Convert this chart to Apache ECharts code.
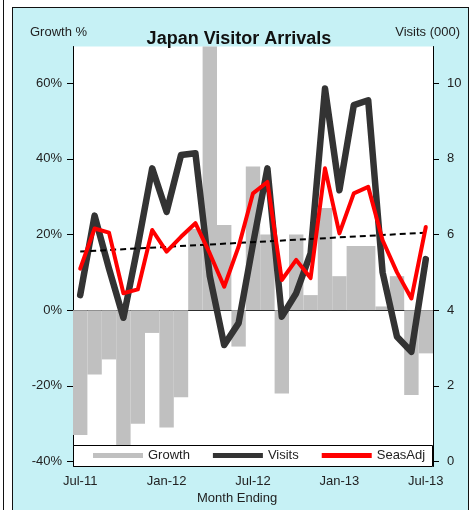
<!DOCTYPE html>
<html>
<head>
<meta charset="utf-8">
<script src="https://cdn.jsdelivr.net/npm/echarts@6/dist/echarts.min.js"></script>
<style>
  html, body { margin: 0; padding: 0; background: #fff; }
  #wrap { position: relative; width: 474px; height: 510px; overflow: hidden; }
  #edge { position: absolute; left: 3px; top: 0; width: 1px; height: 510px; background: #111; }
  #panel { position: absolute; left: 12px; top: 7px; width: 455px; height: 520px;
           background: #c6f1f5; border: 1.5px solid #111; }
  #chart { position: absolute; left: 0; top: 0; width: 474px; height: 510px; }
</style>
</head>
<body>
<div id="wrap">
  <div id="edge"></div>
  <div id="panel"></div>
  <div id="chart"></div>
</div>
<script>
// Monthly categories, Jul-11 .. Jul-13
const months = ['Jul-11','Aug-11','Sep-11','Oct-11','Nov-11','Dec-11',
                'Jan-12','Feb-12','Mar-12','Apr-12','May-12','Jun-12',
                'Jul-12','Aug-12','Sep-12','Oct-12','Nov-12','Dec-12',
                'Jan-13','Feb-13','Mar-13','Apr-13','May-13','Jun-13','Jul-13'];

// Year-on-year growth, percent (left axis)
const growthPct = [-33, -17, -13, -38, -30, -6,
                   -31, -23, 21.5, 78, 22.5, -9.6,
                   38, 20, -22, 20, 4, 27,
                   9, 17, 17, 1, 9, -22.4, -11.4];

// Visitor arrivals, thousands (right axis)
const visits = [4.4, 6.5, 5.1, 3.8, 5.7, 7.75,
                6.6, 8.1, 8.15, 4.9, 3.08, 3.66,
                5.75, 7.75, 3.83, 4.45, 5.5, 9.86,
                7.17, 9.42, 9.55, 5.0, 3.3, 2.9, 5.35];

// Seasonally adjusted arrivals, thousands (right axis)
const seasAdj = [5.1, 6.16, 6.05, 4.45, 4.55, 6.12,
                 5.55, 5.94, 6.3, 5.5, 4.62, 5.68,
                 7.09, 7.39, 4.8, 5.33, 4.85, 7.75,
                 6.03, 7.09, 7.26, 5.85, 5.0, 4.31, 6.2];

// Linear trend of the seasonally adjusted series: end points
const trendStart = 5.55;
const trendEnd = 6.05;

// Axis tick labels
const growthTicks = [-40, -20, 0, 20, 40, 60];
const visitTicks = [0, 2, 4, 6, 8, 10];
const labelMonths = ['Jul-11', 'Jan-12', 'Jul-12', 'Jan-13', 'Jul-13'];

const trend = months.map((m, i) =>
  i === 0 ? trendStart : (i === months.length - 1 ? trendEnd : null));

const FONT = 'Liberation Sans, Arial, sans-serif';
const chart = echarts.init(document.getElementById('chart'), null, { renderer: 'canvas' });

chart.setOption({
  backgroundColor: 'transparent',
  animation: false,
  title: {
    text: 'Japan Visitor Arrivals',
    left: 234, top: 25, textAlign: 'center',
    textStyle: { fontFamily: FONT, fontSize: 18, fontWeight: 'bold', color: '#111' }
  },
  grid: {
    left: 73, right: 41, top: 46.5, bottom: 43.5,
    show: true, backgroundColor: '#fff', borderWidth: 0
  },
  legend: {
    z: 6,
    left: 93, top: 449, padding: 0,
    itemWidth: 50, itemHeight: 5, itemGap: 23,
    textStyle: { fontFamily: FONT, fontSize: 13, color: '#222', padding: [0, 0, 0, 0] },
    data: [
      { name: 'Growth', icon: 'rect' },
      { name: 'Visits', icon: 'rect' },
      { name: 'SeasAdj', icon: 'rect' }
    ]
  },
  xAxis: {
    type: 'category',
    data: months,
    boundaryGap: true,
    axisLine: { lineStyle: { color: '#000', width: 1 } },
    axisTick: { show: false },
    axisLabel: {
      interval: (idx, val) => labelMonths.includes(val),
      margin: 8,
      fontFamily: FONT, fontSize: 13, color: '#222'
    },
    splitLine: { show: false }
  },
  yAxis: [
    {
      type: 'value', position: 'left',
      min: -41.3, max: 69.7,
      axisLine: { show: true, lineStyle: { color: '#000', width: 1 } },
      axisTick: { show: true, customValues: growthTicks, length: 6, lineStyle: { color: '#000' } },
      axisLabel: {
        customValues: growthTicks,
        formatter: v => v + '%',
        margin: 11, fontFamily: FONT, fontSize: 13, color: '#222'
      },
      splitLine: { show: false }
    },
    {
      type: 'value', position: 'right',
      min: -0.13, max: 10.97,
      axisLine: { show: true, lineStyle: { color: '#000', width: 1 } },
      axisTick: { show: true, customValues: visitTicks, length: 6, lineStyle: { color: '#000' } },
      axisLabel: {
        customValues: visitTicks,
        margin: 14, fontFamily: FONT, fontSize: 13, color: '#222'
      },
      splitLine: { show: false }
    }
  ],
  series: [
    {
      name: 'Growth', type: 'bar', yAxisIndex: 0,
      data: growthPct,
      barCategoryGap: '0%',
      itemStyle: { color: '#c0c0c0' },
      clip: true, z: 1
    },
    {
      name: 'Visits', type: 'line', yAxisIndex: 1,
      data: visits,
      symbol: 'none',
      lineStyle: { color: '#333333', width: 6.5, join: 'round', cap: 'round' },
      itemStyle: { color: '#333333' },
      z: 2
    },
    {
      name: 'Trend', type: 'line', yAxisIndex: 1,
      data: trend, connectNulls: true,
      symbol: 'none',
      lineStyle: { color: '#000', width: 2, type: [6, 4] },
      z: 3
    },
    {
      name: 'SeasAdj', type: 'line', yAxisIndex: 1,
      data: seasAdj,
      symbol: 'none',
      lineStyle: { color: '#ff0000', width: 4, join: 'round', cap: 'round' },
      itemStyle: { color: '#ff0000' },
      z: 4
    }
  ],
  graphic: [
    {
      type: 'rect', z: 5,
      shape: { x: 73.5, y: 445.5, width: 359, height: 21 },
      style: { fill: '#fff', stroke: '#000', lineWidth: 1 }
    },
    {
      type: 'text', z: 5, left: 30, top: 26,
      style: { text: 'Growth %', font: '13px ' + FONT, fill: '#222' }
    },
    {
      type: 'text', z: 5, right: 14, top: 26,
      style: { text: 'Visits (000)', font: '13px ' + FONT, fill: '#222' }
    },
    {
      type: 'text', z: 5, left: 197, top: 492,
      style: { text: 'Month Ending', font: '13px ' + FONT, fill: '#222' }
    }
  ]
});
</script>
</body>
</html>
